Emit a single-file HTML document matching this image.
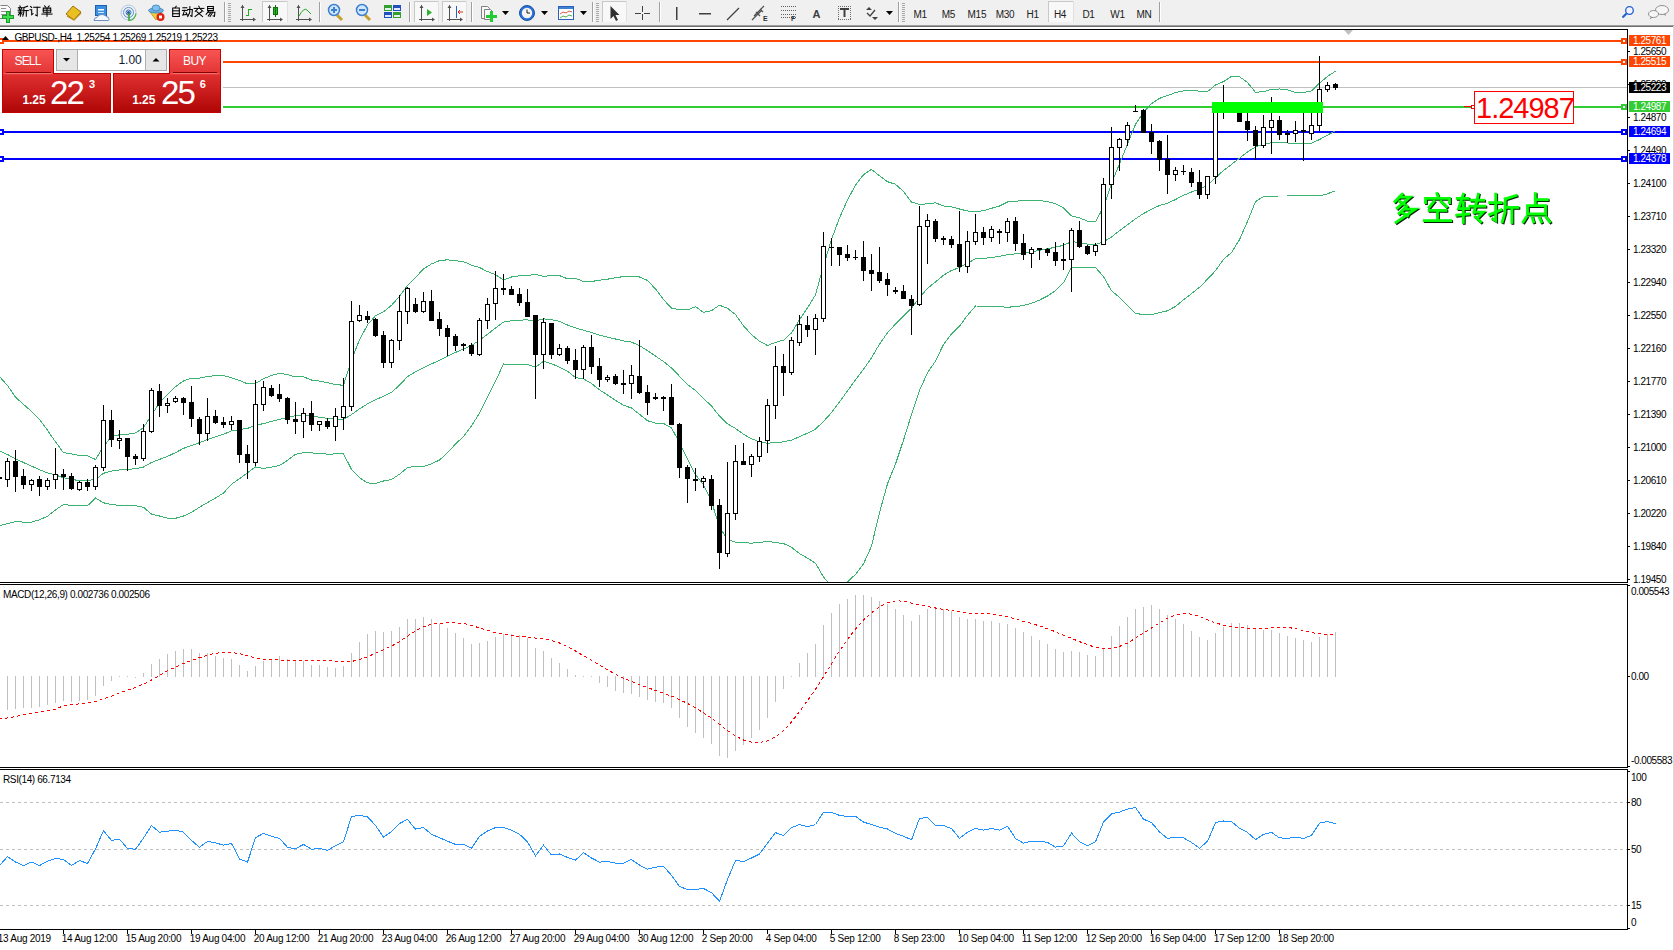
<!DOCTYPE html>
<html><head><meta charset="utf-8">
<style>
html,body{margin:0;padding:0;width:1674px;height:950px;overflow:hidden;background:#fff;font-family:"Liberation Sans",sans-serif;}
svg{position:absolute;left:0;top:0;}
text{font-family:"Liberation Sans",sans-serif;}
.ax{font-size:10px;letter-spacing:-0.45px;fill:#000;}
</style></head><body>
<svg width="1674" height="950">
<defs><clipPath id="cm"><rect x="0" y="30" width="1627" height="552"/></clipPath></defs>
<rect x="0" y="0" width="1674" height="25" fill="#f0f0f0"/><path d="M0.5,5.5 h7 l3,3 v10 h-10.5" fill="#fafafa" stroke="#808080" stroke-width="1"/><rect x="1" y="8" width="5" height="1" fill="#909090"/><rect x="1" y="11" width="7" height="1" fill="#909090"/><rect x="1" y="14" width="7" height="1" fill="#909090"/><g shape-rendering="crispEdges"><rect x="2" y="15" width="12" height="4" fill="#1a9a2a"/><rect x="6" y="11" width="4" height="12" fill="#1a9a2a"/><rect x="3" y="16" width="10" height="2" fill="#3ee04e"/><rect x="7" y="12" width="2" height="10" fill="#3ee04e"/></g><g fill="none" stroke="#000" stroke-width="1.05" stroke-linecap="square" stroke-linejoin="miter" ><polyline points="19.92,5.94 20.47,7.04"/><polyline points="18.38,7.70 22.34,7.70"/><polyline points="19.26,8.47 19.70,9.57"/><polyline points="21.57,8.47 20.91,9.57"/><polyline points="18.16,10.23 22.56,10.23"/><polyline points="18.38,12.10 22.34,12.10"/><polyline points="20.36,10.23 20.36,16.28"/><polyline points="20.14,12.54 18.38,14.96"/><polyline points="20.58,12.76 22.12,14.30"/><polyline points="27.62,6.16 23.88,7.48"/><polyline points="23.88,7.48 23.77,12.76 22.78,16.06"/><polyline points="23.88,10.56 28.28,10.56"/><polyline points="26.30,10.56 26.30,16.28"/></g><g fill="none" stroke="#000" stroke-width="1.05" stroke-linecap="square" stroke-linejoin="miter" ><polyline points="30.60,6.38 31.70,7.48"/><polyline points="29.94,9.68 31.70,9.68 31.70,14.74 33.02,13.64"/><polyline points="33.68,7.26 40.06,7.26"/><polyline points="37.20,7.26 37.20,15.84 35.66,14.96"/></g><g fill="none" stroke="#000" stroke-width="1.05" stroke-linecap="square" stroke-linejoin="miter" ><polyline points="44.58,5.94 45.46,7.04"/><polyline points="49.20,5.94 48.32,7.04"/><polyline points="43.26,8.14 50.74,8.14 50.74,12.32 43.26,12.32 43.26,8.14"/><polyline points="43.26,10.23 50.74,10.23"/><polyline points="47.00,8.14 47.00,16.28"/><polyline points="41.94,14.08 52.06,14.08"/></g><path d="M66,14 l7,-8 l8,6 l-7,8 z" fill="#e8c020" stroke="#a07010" stroke-width="1"/><path d="M67,16 l7,4 l7,-7" fill="none" stroke="#c08818" stroke-width="1.2"/><rect x="95.5" y="5.5" width="11" height="10" fill="#3a8fe0" stroke="#1d5fb0"/><rect x="98" y="9" width="6" height="1.5" fill="#fff"/><rect x="98" y="12" width="6" height="1" fill="#cfe8ff"/><path d="M94,20.5 q0,-3 3,-3 q1,-3 5,-3 q3,0 4,2 q3,0 3,3 q0,1 -1,1 z" fill="#f4f8ff" stroke="#7090c0" stroke-width="1"/><g fill="none" stroke-width="1"><circle cx="128.5" cy="12.5" r="7.5" stroke="#b0c8e8"/><circle cx="128.5" cy="12.5" r="5" stroke="#6090d0"/><circle cx="128.5" cy="12.5" r="2.5" stroke="#3070c0"/></g><circle cx="128.5" cy="12.5" r="1.5" fill="#2050b0"/><path d="M129,13 v8" stroke="#30a030" stroke-width="1.5"/><path d="M129,20.5 a7.5,7.5 0 0 0 7,-7" fill="none" stroke="#40b040" stroke-width="1.2"/><path d="M150,12 l6,8 l6,-8 z" fill="#f0d040" stroke="#b09020" stroke-width="0.8"/><ellipse cx="156" cy="10.5" rx="7.5" ry="2.5" fill="#70b0e0" stroke="#3a80c0" stroke-width="0.8"/><ellipse cx="156" cy="8" rx="4" ry="3" fill="#80c0f0" stroke="#3a80c0" stroke-width="0.8"/><circle cx="160.5" cy="17" r="4" fill="#e02010"/><rect x="159" y="15.5" width="3" height="3" fill="#fff"/><g fill="none" stroke="#000" stroke-width="1.05" stroke-linecap="square" stroke-linejoin="miter" ><polyline points="176.22,6.22 175.12,7.76"/><polyline points="172.70,7.98 179.30,7.98 179.30,16.56 172.70,16.56 172.70,7.98"/><polyline points="172.70,10.84 179.30,10.84"/><polyline points="172.70,13.70 179.30,13.70"/></g><g fill="none" stroke="#000" stroke-width="1.05" stroke-linecap="square" stroke-linejoin="miter" ><polyline points="182.88,7.76 186.84,7.76"/><polyline points="182.44,10.40 187.28,10.40"/><polyline points="184.64,10.40 182.88,15.02 186.84,14.36"/><polyline points="185.96,12.60 187.28,15.24"/><polyline points="187.72,9.52 192.34,9.52 191.90,16.34 190.58,15.68"/><polyline points="189.92,6.66 189.70,12.60 187.72,16.56"/></g><g fill="none" stroke="#000" stroke-width="1.05" stroke-linecap="square" stroke-linejoin="miter" ><polyline points="198.78,6.22 199.44,7.32"/><polyline points="194.16,8.42 203.84,8.42"/><polyline points="197.24,9.52 195.26,11.28"/><polyline points="200.76,9.52 202.96,11.28"/><polyline points="196.80,11.72 202.52,16.56"/><polyline points="201.42,11.72 195.04,16.56"/></g><g fill="none" stroke="#000" stroke-width="1.05" stroke-linecap="square" stroke-linejoin="miter" ><polyline points="207.64,6.44 213.36,6.44 213.36,10.62 207.64,10.62 207.64,6.44"/><polyline points="207.64,8.53 213.36,8.53"/><polyline points="208.74,11.06 206.10,14.36"/><polyline points="208.30,12.16 214.90,12.16 214.46,16.34 213.14,15.90"/><polyline points="210.50,12.82 208.30,15.90"/><polyline points="212.48,12.82 210.06,16.56"/></g><rect x="224" y="2" width="1" height="20" fill="#a0a0a0"/><rect x="225" y="2" width="1" height="20" fill="#ffffff"/><rect x="228" y="3" width="3" height="1" fill="#a8a8a8"/><rect x="228" y="5" width="3" height="1" fill="#a8a8a8"/><rect x="228" y="7" width="3" height="1" fill="#a8a8a8"/><rect x="228" y="9" width="3" height="1" fill="#a8a8a8"/><rect x="228" y="11" width="3" height="1" fill="#a8a8a8"/><rect x="228" y="13" width="3" height="1" fill="#a8a8a8"/><rect x="228" y="15" width="3" height="1" fill="#a8a8a8"/><rect x="228" y="17" width="3" height="1" fill="#a8a8a8"/><rect x="228" y="19" width="3" height="1" fill="#a8a8a8"/><rect x="228" y="21" width="3" height="1" fill="#a8a8a8"/><g stroke="#505050" stroke-width="1" fill="none" shape-rendering="crispEdges"><path d="M242.5,5 v15.5 M240,19.5 h14"/></g><path d="M240.5,8 l2,-3 l2,3 z M253,17.5 l3,2 l-3,2 z" fill="#505050"/><g stroke="#22aa22" stroke-width="1" fill="none" shape-rendering="crispEdges"><path d="M248.5,9 v7 M248.5,9.5 h3 M245.5,15.5 h3"/></g><rect x="262" y="1" width="26" height="21" fill="#f8f8f8"/><rect x="262" y="1" width="26" height="1" fill="#c8c8c8"/><rect x="262" y="1" width="1" height="21" fill="#c8c8c8"/><rect x="287" y="1" width="1" height="21" fill="#e0e0e0"/><g stroke="#505050" stroke-width="1" fill="none" shape-rendering="crispEdges"><path d="M269.5,5 v15.5 M267,19.5 h14"/></g><path d="M267.5,8 l2,-3 l2,3 z M280,17.5 l3,2 l-3,2 z" fill="#505050"/><rect x="273.5" y="7.5" width="4" height="7" fill="#22bb22" stroke="#107010"/><path d="M275.5,5 v12" stroke="#107010"/><g stroke="#505050" stroke-width="1" fill="none" shape-rendering="crispEdges"><path d="M298.5,5 v15.5 M296,19.5 h14"/></g><path d="M296.5,8 l2,-3 l2,3 z M309,17.5 l3,2 l-3,2 z" fill="#505050"/><path d="M299,16 q5,-9 8,-6 l4,4" fill="none" stroke="#22aa22" stroke-width="1"/><rect x="319" y="2" width="1" height="20" fill="#a0a0a0"/><rect x="320" y="2" width="1" height="20" fill="#ffffff"/><path d="M337,15 l5,5" stroke="#c8a030" stroke-width="3"/><circle cx="334" cy="10" r="5.5" fill="#cfe8ff" stroke="#3c7fd0" stroke-width="1.5"/><rect x="331" y="9" width="6" height="2" fill="#3c7fd0"/><rect x="333" y="7" width="2" height="6" fill="#3c7fd0"/><path d="M365,15 l5,5" stroke="#c8a030" stroke-width="3"/><circle cx="362" cy="10" r="5.5" fill="#cfe8ff" stroke="#3c7fd0" stroke-width="1.5"/><rect x="359" y="9" width="6" height="2" fill="#3c7fd0"/><g shape-rendering="crispEdges"><rect x="384" y="5" width="8" height="6" fill="#30a030"/><rect x="393" y="5" width="8" height="6" fill="#2050c0"/><rect x="384" y="12" width="8" height="6" fill="#2050c0"/><rect x="393" y="12" width="8" height="6" fill="#30a030"/><rect x="385" y="8" width="6" height="2" fill="#e8f0e8"/><rect x="394" y="8" width="6" height="2" fill="#e0e8ff"/><rect x="385" y="15" width="6" height="2" fill="#e0e8ff"/><rect x="394" y="15" width="6" height="2" fill="#e8f0e8"/></g><rect x="409" y="2" width="1" height="20" fill="#a0a0a0"/><rect x="410" y="2" width="1" height="20" fill="#ffffff"/><rect x="414" y="1" width="25" height="21" fill="#f8f8f8"/><rect x="414" y="1" width="25" height="1" fill="#c8c8c8"/><rect x="414" y="1" width="1" height="21" fill="#c8c8c8"/><rect x="438" y="1" width="1" height="21" fill="#e0e0e0"/><g stroke="#505050" stroke-width="1" fill="none" shape-rendering="crispEdges"><path d="M421.5,5 v15.5 M419,19.5 h14"/></g><path d="M419.5,8 l2,-3 l2,3 z M432,17.5 l3,2 l-3,2 z" fill="#505050"/><path d="M427,9 l5,3.5 l-5,3.5 z" fill="#30b030"/><rect x="442" y="1" width="25" height="21" fill="#f8f8f8"/><rect x="442" y="1" width="25" height="1" fill="#c8c8c8"/><rect x="442" y="1" width="1" height="21" fill="#c8c8c8"/><rect x="466" y="1" width="1" height="21" fill="#e0e0e0"/><g stroke="#505050" stroke-width="1" fill="none" shape-rendering="crispEdges"><path d="M449.5,5 v15.5 M447,19.5 h14"/></g><path d="M447.5,8 l2,-3 l2,3 z M460,17.5 l3,2 l-3,2 z" fill="#505050"/><path d="M456.5,6 v12" stroke="#2060d0" stroke-width="1"/><path d="M463,12 h-5 M460,10 l-2,2 l2,2" fill="none" stroke="#d03010" stroke-width="1"/><rect x="471" y="2" width="1" height="20" fill="#a0a0a0"/><rect x="472" y="2" width="1" height="20" fill="#ffffff"/><path d="M481.5,6.5 h6 l2,2 v10 h-8 z" fill="#fafafa" stroke="#808080"/><path d="M484.5,9.5 h6 l2,2 v8 h-8 z" fill="#fafafa" stroke="#808080"/><g shape-rendering="crispEdges"><rect x="486" y="15" width="11" height="3" fill="#22cc33"/><rect x="490" y="11" width="3" height="11" fill="#22cc33"/></g><path d="M502,11 h7 l-3.5,4 z" fill="#000"/><circle cx="527" cy="13" r="7.5" fill="#2a70d8" stroke="#1a50a0"/><circle cx="527" cy="13" r="5.2" fill="#f4f4f4"/><path d="M527,9.5 v3.5 h3" fill="none" stroke="#202020" stroke-width="1"/><path d="M541,11 h7 l-3.5,4 z" fill="#000"/><rect x="558.5" y="6.5" width="15" height="13" fill="#fff" stroke="#2a60c0"/><rect x="559" y="7" width="14" height="2" fill="#4080d0"/><path d="M560,14 l3,-2 l3,1 l3,-2 l3,1" fill="none" stroke="#d03020" stroke-width="0.8"/><path d="M560,18 l3,-2 l3,1 l3,-2 l3,1" fill="none" stroke="#20a020" stroke-width="0.8"/><path d="M580,11 h7 l-3.5,4 z" fill="#000"/><rect x="592" y="2" width="1" height="20" fill="#a0a0a0"/><rect x="593" y="2" width="1" height="20" fill="#ffffff"/><rect x="596" y="3" width="3" height="1" fill="#a8a8a8"/><rect x="596" y="5" width="3" height="1" fill="#a8a8a8"/><rect x="596" y="7" width="3" height="1" fill="#a8a8a8"/><rect x="596" y="9" width="3" height="1" fill="#a8a8a8"/><rect x="596" y="11" width="3" height="1" fill="#a8a8a8"/><rect x="596" y="13" width="3" height="1" fill="#a8a8a8"/><rect x="596" y="15" width="3" height="1" fill="#a8a8a8"/><rect x="596" y="17" width="3" height="1" fill="#a8a8a8"/><rect x="596" y="19" width="3" height="1" fill="#a8a8a8"/><rect x="596" y="21" width="3" height="1" fill="#a8a8a8"/><rect x="602" y="1" width="25" height="21" fill="#f8f8f8"/><rect x="602" y="1" width="25" height="1" fill="#c8c8c8"/><rect x="602" y="1" width="1" height="21" fill="#c8c8c8"/><rect x="626" y="1" width="1" height="21" fill="#e0e0e0"/><path d="M610.5,6 v13 l3,-3 l2.5,5 l2,-1 l-2.5,-5 h4 z" fill="#303030"/><g fill="#404040" shape-rendering="crispEdges"><rect x="642" y="6" width="1" height="6"/><rect x="642" y="14" width="1" height="6"/><rect x="635" y="13" width="6" height="1"/><rect x="644" y="13" width="6" height="1"/></g><rect x="659" y="2" width="1" height="20" fill="#a0a0a0"/><rect x="660" y="2" width="1" height="20" fill="#ffffff"/><rect x="676" y="7" width="1.5" height="13" fill="#404040"/><rect x="699" y="13" width="12" height="1.5" fill="#404040"/><path d="M727,20 l12,-12" stroke="#404040" stroke-width="1.3"/><path d="M754,16 l10,-10 M752,20 l10,-10 M756,12 l4,4 M760,9 l3,3" stroke="#505050" stroke-width="1.2" fill="none"/><text x="763" y="21" fill="#303030" style="font-size:7px;font-weight:bold;">E</text><g fill="#606060" shape-rendering="crispEdges"><rect x="781" y="6" width="1" height="1"/><rect x="783" y="6" width="1" height="1"/><rect x="785" y="6" width="1" height="1"/><rect x="787" y="6" width="1" height="1"/><rect x="789" y="6" width="1" height="1"/><rect x="791" y="6" width="1" height="1"/><rect x="793" y="6" width="1" height="1"/><rect x="795" y="6" width="1" height="1"/><rect x="781" y="10" width="1" height="1"/><rect x="783" y="10" width="1" height="1"/><rect x="785" y="10" width="1" height="1"/><rect x="787" y="10" width="1" height="1"/><rect x="789" y="10" width="1" height="1"/><rect x="791" y="10" width="1" height="1"/><rect x="793" y="10" width="1" height="1"/><rect x="795" y="10" width="1" height="1"/><rect x="781" y="14" width="1" height="1"/><rect x="783" y="14" width="1" height="1"/><rect x="785" y="14" width="1" height="1"/><rect x="787" y="14" width="1" height="1"/><rect x="789" y="14" width="1" height="1"/><rect x="791" y="14" width="1" height="1"/><rect x="793" y="14" width="1" height="1"/><rect x="795" y="14" width="1" height="1"/><rect x="781" y="17" width="1" height="1"/><rect x="783" y="17" width="1" height="1"/><rect x="785" y="17" width="1" height="1"/><rect x="787" y="17" width="1" height="1"/><rect x="789" y="17" width="1" height="1"/><rect x="791" y="17" width="1" height="1"/><rect x="793" y="17" width="1" height="1"/><rect x="795" y="17" width="1" height="1"/></g><text x="791" y="21" fill="#303030" style="font-size:7px;font-weight:bold;">F</text><text x="812.5" y="18" fill="#404040" style="font-size:11px;font-weight:bold;">A</text><g fill="#707070" shape-rendering="crispEdges"><rect x="838" y="6" width="1" height="1"/><rect x="838" y="19" width="1" height="1"/><rect x="840" y="6" width="1" height="1"/><rect x="840" y="19" width="1" height="1"/><rect x="842" y="6" width="1" height="1"/><rect x="842" y="19" width="1" height="1"/><rect x="844" y="6" width="1" height="1"/><rect x="844" y="19" width="1" height="1"/><rect x="846" y="6" width="1" height="1"/><rect x="846" y="19" width="1" height="1"/><rect x="848" y="6" width="1" height="1"/><rect x="848" y="19" width="1" height="1"/><rect x="850" y="6" width="1" height="1"/><rect x="850" y="19" width="1" height="1"/><rect x="838" y="6" width="1" height="1"/><rect x="850" y="6" width="1" height="1"/><rect x="838" y="8" width="1" height="1"/><rect x="850" y="8" width="1" height="1"/><rect x="838" y="10" width="1" height="1"/><rect x="850" y="10" width="1" height="1"/><rect x="838" y="12" width="1" height="1"/><rect x="850" y="12" width="1" height="1"/><rect x="838" y="14" width="1" height="1"/><rect x="850" y="14" width="1" height="1"/><rect x="838" y="16" width="1" height="1"/><rect x="850" y="16" width="1" height="1"/><rect x="838" y="18" width="1" height="1"/><rect x="850" y="18" width="1" height="1"/></g><rect x="840" y="8" width="9" height="2" fill="#404040"/><rect x="843.5" y="8" width="2" height="9" fill="#404040"/><path d="M866,10 l3,-3 l3,3 z M872,17 l3,3 l3,-3 z" fill="#404040"/><path d="M867,13 l3,3 l5,-6" fill="none" stroke="#404040" stroke-width="1.3"/><path d="M886,11 h7 l-3.5,4 z" fill="#000"/><rect x="898" y="2" width="1" height="20" fill="#a0a0a0"/><rect x="899" y="2" width="1" height="20" fill="#ffffff"/><rect x="902" y="3" width="3" height="1" fill="#a8a8a8"/><rect x="902" y="5" width="3" height="1" fill="#a8a8a8"/><rect x="902" y="7" width="3" height="1" fill="#a8a8a8"/><rect x="902" y="9" width="3" height="1" fill="#a8a8a8"/><rect x="902" y="11" width="3" height="1" fill="#a8a8a8"/><rect x="902" y="13" width="3" height="1" fill="#a8a8a8"/><rect x="902" y="15" width="3" height="1" fill="#a8a8a8"/><rect x="902" y="17" width="3" height="1" fill="#a8a8a8"/><rect x="902" y="19" width="3" height="1" fill="#a8a8a8"/><rect x="902" y="21" width="3" height="1" fill="#a8a8a8"/><text x="913.5" y="17.5" fill="#202020" style="font-size:10px;letter-spacing:-0.3px;">M1</text><text x="941.8" y="17.5" fill="#202020" style="font-size:10px;letter-spacing:-0.3px;">M5</text><text x="967.6" y="17.5" fill="#202020" style="font-size:10px;letter-spacing:-0.3px;">M15</text><text x="995.8" y="17.5" fill="#202020" style="font-size:10px;letter-spacing:-0.3px;">M30</text><text x="1026.5" y="17.5" fill="#202020" style="font-size:10px;letter-spacing:-0.3px;">H1</text><text x="1082.4" y="17.5" fill="#202020" style="font-size:10px;letter-spacing:-0.3px;">D1</text><text x="1110.3" y="17.5" fill="#202020" style="font-size:10px;letter-spacing:-0.3px;">W1</text><text x="1136.6" y="17.5" fill="#202020" style="font-size:10px;letter-spacing:-0.3px;">MN</text><rect x="1048" y="1" width="26" height="21" fill="#f8f8f8"/><rect x="1048" y="1" width="26" height="1" fill="#c8c8c8"/><rect x="1048" y="1" width="1" height="21" fill="#c8c8c8"/><rect x="1073" y="1" width="1" height="21" fill="#e0e0e0"/><text x="1053.9" y="17.5" fill="#202020" style="font-size:10px;letter-spacing:-0.3px;">H4</text><rect x="1159" y="2" width="1" height="20" fill="#a0a0a0"/><rect x="1160" y="2" width="1" height="20" fill="#ffffff"/><circle cx="1629.5" cy="10.5" r="3.8" fill="#f4f4ff" stroke="#2060d0" stroke-width="1.3"/><path d="M1626.5,13.5 l-4,4" stroke="#2060d0" stroke-width="2.2"/><ellipse cx="1662" cy="10" rx="6.5" ry="4.5" fill="#f6f6f6" stroke="#909090"/><path d="M1664,14 l1.5,2.5 l0,-3" fill="#808080"/><ellipse cx="1653.5" cy="14" rx="5" ry="3.5" fill="#f6f6f6" stroke="#909090"/><path d="M1651,17 l-1.5,2.5 l3,-2" fill="#808080"/>
<g shape-rendering="crispEdges">
<rect x="0" y="25" width="1674" height="1" fill="#a0a0a0"/>
<rect x="0" y="26" width="1674" height="1" fill="#6d6d6d"/>
<rect x="1673" y="26" width="1" height="924" fill="#d8d8d8"/>
<rect x="0" y="29" width="1628" height="1" fill="#000"/>
<rect x="0" y="582" width="1628" height="1" fill="#000"/>
<rect x="0" y="584" width="1628" height="1" fill="#000"/>
<rect x="0" y="767" width="1628" height="1" fill="#000"/>
<rect x="0" y="769" width="1628" height="1" fill="#000"/>
<rect x="0" y="929" width="1628" height="1" fill="#000"/>
<rect x="1627" y="29" width="1" height="554" fill="#000"/><rect x="1627" y="584" width="1" height="184" fill="#000"/><rect x="1627" y="769" width="1" height="161" fill="#000"/>
<rect x="0" y="40" width="1627" height="2" fill="#ff4500"/><rect x="1621" y="38" width="6" height="6" fill="#ff4500"/><rect x="1623" y="40" width="2" height="2" fill="#fff"/><rect x="0" y="38" width="4" height="6" fill="#ff4500"/><rect x="0" y="40" width="2" height="2" fill="#fff"/><rect x="0" y="61" width="1627" height="2" fill="#ff4500"/><rect x="1621" y="59" width="6" height="6" fill="#ff4500"/><rect x="1623" y="61" width="2" height="2" fill="#fff"/><rect x="0" y="59" width="4" height="6" fill="#ff4500"/><rect x="0" y="61" width="2" height="2" fill="#fff"/><rect x="0" y="87" width="1627" height="1" fill="#c0c0c0"/><rect x="0" y="106" width="1627" height="2" fill="#32cd32"/><rect x="1621" y="104" width="6" height="6" fill="#32cd32"/><rect x="1623" y="106" width="2" height="2" fill="#fff"/><rect x="0" y="104" width="4" height="6" fill="#32cd32"/><rect x="0" y="106" width="2" height="2" fill="#fff"/><rect x="0" y="131" width="1627" height="2" fill="#0000ff"/><rect x="1621" y="129" width="6" height="6" fill="#0000ff"/><rect x="1623" y="131" width="2" height="2" fill="#fff"/><rect x="0" y="129" width="4" height="6" fill="#0000ff"/><rect x="0" y="131" width="2" height="2" fill="#fff"/><rect x="0" y="158" width="1627" height="2" fill="#0000ff"/><rect x="1621" y="156" width="6" height="6" fill="#0000ff"/><rect x="1623" y="158" width="2" height="2" fill="#fff"/><rect x="0" y="156" width="4" height="6" fill="#0000ff"/><rect x="0" y="158" width="2" height="2" fill="#fff"/>
</g>
<g fill="none" stroke="#3cb371" stroke-width="1" clip-path="url(#cm)" shape-rendering="crispEdges">
<polyline points="-0.5,376.5 7.5,385.5 15.5,397.2 23.5,404.3 31.5,411.5 39.5,419.5 47.5,430.3 55.5,441.9 63.5,452.7 71.5,453.9 79.5,455.4 87.5,455.7 95.5,459.5 103.5,446.5 111.5,436.5 119.5,434.8 127.5,434.2 135.5,433.0 143.5,427.6 151.5,415.1 159.5,402.7 167.5,394.8 175.5,386.8 183.5,380.9 191.5,378.3 199.5,378.2 207.5,376.5 215.5,375.7 223.5,375.6 231.5,377.7 239.5,380.4 247.5,383.9 255.5,383.5 263.5,378.7 271.5,375.5 279.5,373.2 287.5,374.6 295.5,377.0 303.5,376.8 311.5,380.0 319.5,381.1 327.5,382.6 335.5,384.7 343.5,385.2 351.5,359.9 359.5,339.8 367.5,324.9 375.5,315.7 383.5,311.9 391.5,305.3 399.5,296.3 407.5,285.5 415.5,277.6 423.5,268.8 431.5,263.9 439.5,260.6 447.5,259.8 455.5,260.7 463.5,261.6 471.5,265.2 479.5,267.5 487.5,271.6 495.5,274.6 503.5,280.1 511.5,277.0 519.5,275.7 527.5,275.5 535.5,274.4 543.5,276.5 551.5,275.4 559.5,275.6 567.5,278.8 575.5,278.3 583.5,281.5 591.5,281.5 599.5,280.2 607.5,279.2 615.5,277.7 623.5,276.6 631.5,276.1 639.5,277.0 647.5,280.4 655.5,289.0 663.5,299.5 671.5,308.2 679.5,309.7 687.5,309.9 695.5,306.7 703.5,312.3 711.5,310.6 719.5,305.2 727.5,308.3 735.5,314.6 743.5,325.8 751.5,334.5 759.5,341.2 767.5,345.5 775.5,342.3 783.5,340.2 791.5,332.9 799.5,319.8 807.5,307.9 815.5,294.9 823.5,265.8 831.5,239.5 839.5,217.8 847.5,200.0 855.5,185.1 863.5,174.7 871.5,169.4 879.5,175.8 887.5,181.7 895.5,184.3 903.5,191.5 911.5,202.0 919.5,204.6 927.5,203.8 935.5,202.8 943.5,206.0 951.5,206.9 959.5,209.0 967.5,211.0 975.5,211.7 983.5,210.7 991.5,208.3 999.5,206.0 1007.5,202.0 1015.5,201.1 1023.5,200.8 1031.5,200.5 1039.5,200.6 1047.5,201.5 1055.5,203.7 1063.5,208.0 1071.5,215.9 1079.5,217.8 1087.5,221.2 1095.5,221.7 1103.5,207.1 1111.5,183.2 1119.5,163.9 1127.5,144.1 1135.5,124.3 1143.5,112.4 1151.5,103.6 1159.5,98.4 1167.5,95.5 1175.5,92.6 1183.5,90.9 1191.5,90.4 1199.5,91.2 1207.5,91.7 1215.5,85.0 1223.5,81.6 1231.5,76.3 1239.5,76.7 1247.5,82.5 1255.5,92.3 1263.5,91.7 1271.5,89.4 1279.5,89.0 1287.5,89.9 1295.5,92.5 1303.5,92.4 1311.5,91.0 1319.5,83.2 1327.5,76.4 1335.5,71.2"/><polyline points="-0.5,451.0 7.5,454.5 15.5,458.9 23.5,462.5 31.5,466.1 39.5,469.7 47.5,472.9 55.5,475.0 63.5,477.7 71.5,479.5 79.5,480.5 87.5,480.5 95.5,479.5 103.5,473.3 111.5,471.1 119.5,470.0 127.5,469.3 135.5,468.8 143.5,467.0 151.5,462.5 159.5,459.4 167.5,456.4 175.5,452.6 183.5,448.4 191.5,445.4 199.5,442.7 207.5,439.5 215.5,436.9 223.5,434.3 231.5,430.9 239.5,429.6 247.5,428.4 255.5,425.2 263.5,423.6 271.5,421.4 279.5,419.4 287.5,417.5 295.5,415.6 303.5,414.8 311.5,416.4 319.5,417.2 327.5,418.4 335.5,419.3 343.5,419.5 351.5,414.6 359.5,408.8 367.5,403.9 375.5,399.6 383.5,396.4 391.5,392.4 399.5,385.2 407.5,376.6 415.5,371.9 423.5,367.6 431.5,363.9 439.5,360.4 447.5,356.2 455.5,352.4 463.5,349.0 471.5,345.4 479.5,340.4 487.5,334.3 495.5,327.9 503.5,322.1 511.5,320.7 519.5,320.1 527.5,319.9 535.5,320.9 543.5,318.9 551.5,319.6 559.5,321.4 567.5,325.0 575.5,327.9 583.5,330.2 591.5,332.5 599.5,335.1 607.5,337.1 615.5,339.0 623.5,340.9 631.5,342.1 639.5,345.6 647.5,350.6 655.5,356.1 663.5,361.5 671.5,368.0 679.5,376.2 687.5,384.4 695.5,390.6 703.5,398.4 711.5,406.0 719.5,416.2 727.5,423.9 735.5,428.4 743.5,434.3 751.5,438.8 759.5,441.9 767.5,443.3 775.5,442.4 783.5,441.9 791.5,440.1 799.5,436.7 807.5,433.1 815.5,429.1 823.5,421.4 831.5,412.6 839.5,401.9 847.5,390.9 855.5,379.8 863.5,369.4 871.5,357.8 879.5,344.1 887.5,332.7 895.5,324.1 903.5,315.9 911.5,308.3 919.5,297.6 927.5,288.3 935.5,281.9 943.5,275.2 951.5,270.4 959.5,267.6 967.5,263.1 975.5,258.9 983.5,258.4 991.5,257.5 999.5,256.4 1007.5,254.6 1015.5,253.9 1023.5,253.1 1031.5,251.9 1039.5,250.3 1047.5,248.8 1055.5,247.2 1063.5,245.3 1071.5,241.6 1079.5,242.6 1087.5,244.2 1095.5,244.6 1103.5,241.8 1111.5,237.0 1119.5,230.7 1127.5,224.8 1135.5,218.8 1143.5,213.6 1151.5,209.2 1159.5,205.5 1167.5,203.2 1175.5,199.5 1183.5,195.3 1191.5,192.0 1199.5,189.2 1207.5,185.4 1215.5,177.8 1223.5,170.4 1231.5,164.4 1239.5,158.2 1247.5,151.9 1255.5,146.9 1263.5,144.1 1271.5,142.8 1279.5,142.5 1287.5,142.9 1295.5,143.9 1303.5,143.8 1311.5,143.1 1319.5,139.6 1327.5,135.1 1335.5,130.9"/><polyline points="-0.5,525.5 7.5,523.7 15.5,521.5 23.5,522.1 31.5,522.1 39.5,519.8 47.5,516.2 55.5,509.9 63.5,504.5 71.5,505.5 79.5,505.8 87.5,505.8 95.5,497.9 103.5,502.8 111.5,504.5 119.5,505.5 127.5,505.8 135.5,505.8 143.5,507.3 151.5,514.1 159.5,516.0 167.5,518.1 175.5,518.3 183.5,516.0 191.5,512.4 199.5,507.2 207.5,502.5 215.5,498.1 223.5,493.0 231.5,484.2 239.5,478.7 247.5,472.8 255.5,466.9 263.5,468.4 271.5,467.2 279.5,465.5 287.5,460.4 295.5,454.3 303.5,452.7 311.5,452.9 319.5,453.4 327.5,454.2 335.5,453.9 343.5,453.8 351.5,469.4 359.5,477.7 367.5,482.9 375.5,483.4 383.5,481.0 391.5,479.5 399.5,474.2 407.5,467.6 415.5,466.2 423.5,466.4 431.5,463.8 439.5,460.1 447.5,452.6 455.5,444.1 463.5,436.4 471.5,425.7 479.5,413.3 487.5,397.0 495.5,381.2 503.5,364.0 511.5,364.4 519.5,364.4 527.5,364.3 535.5,367.3 543.5,361.2 551.5,363.7 559.5,367.2 567.5,371.2 575.5,377.5 583.5,378.9 591.5,383.5 599.5,389.9 607.5,395.0 615.5,400.3 623.5,405.3 631.5,408.0 639.5,414.3 647.5,420.7 655.5,423.1 663.5,423.5 671.5,427.8 679.5,442.8 687.5,458.8 695.5,474.6 703.5,484.6 711.5,501.4 719.5,527.2 727.5,539.4 735.5,542.3 743.5,542.8 751.5,543.1 759.5,542.6 767.5,541.1 775.5,542.6 783.5,543.5 791.5,547.3 799.5,553.6 807.5,558.2 815.5,563.2 823.5,577.1 831.5,585.7 839.5,586.1 847.5,581.8 855.5,574.4 863.5,564.0 871.5,546.1 879.5,512.5 887.5,483.7 895.5,464.0 903.5,440.2 911.5,414.6 919.5,390.5 927.5,372.8 935.5,361.0 943.5,344.5 951.5,334.0 959.5,326.1 967.5,315.3 975.5,306.0 983.5,306.1 991.5,306.7 999.5,306.8 1007.5,307.2 1015.5,306.7 1023.5,305.4 1031.5,303.3 1039.5,300.1 1047.5,296.0 1055.5,290.8 1063.5,282.7 1071.5,267.3 1079.5,267.4 1087.5,267.3 1095.5,267.5 1103.5,276.6 1111.5,290.8 1119.5,297.4 1127.5,305.6 1135.5,313.3 1143.5,314.7 1151.5,314.7 1159.5,312.6 1167.5,310.8 1175.5,306.4 1183.5,299.8 1191.5,293.6 1199.5,287.3 1207.5,279.2 1215.5,270.7 1223.5,259.3 1231.5,252.5 1239.5,239.6 1247.5,221.4 1255.5,201.6 1263.5,196.5 1271.5,196.1 1279.5,196.0 1287.5,196.0 1295.5,195.3 1303.5,195.3 1311.5,195.1 1319.5,195.9 1327.5,193.8 1335.5,190.7"/>
</g>
<g fill="#000" shape-rendering="crispEdges"><rect x="-1" y="476" width="1" height="5"/><rect x="-3" y="477" width="5" height="2"/><rect x="7" y="458" width="1" height="29"/><rect x="5" y="461" width="5" height="19"/><rect x="6" y="462" width="3" height="17" fill="#fff"/><rect x="15" y="450" width="1" height="42"/><rect x="13" y="461" width="5" height="16"/><rect x="23" y="469" width="1" height="20"/><rect x="21" y="476" width="5" height="9"/><rect x="31" y="479" width="1" height="12"/><rect x="29" y="480" width="5" height="5"/><rect x="30" y="481" width="3" height="3" fill="#fff"/><rect x="39" y="476" width="1" height="20"/><rect x="37" y="479" width="5" height="8"/><rect x="47" y="478" width="1" height="12"/><rect x="45" y="480" width="5" height="7"/><rect x="46" y="481" width="3" height="5" fill="#fff"/><rect x="55" y="448" width="1" height="41"/><rect x="53" y="474" width="5" height="6"/><rect x="54" y="475" width="3" height="4" fill="#fff"/><rect x="63" y="469" width="1" height="21"/><rect x="61" y="474" width="5" height="3"/><rect x="71" y="473" width="1" height="17"/><rect x="69" y="476" width="5" height="13"/><rect x="79" y="481" width="1" height="10"/><rect x="77" y="482" width="5" height="8"/><rect x="78" y="483" width="3" height="6" fill="#fff"/><rect x="87" y="479" width="1" height="12"/><rect x="85" y="482" width="5" height="5"/><rect x="95" y="465" width="1" height="25"/><rect x="93" y="467" width="5" height="20"/><rect x="94" y="468" width="3" height="18" fill="#fff"/><rect x="103" y="405" width="1" height="66"/><rect x="101" y="420" width="5" height="48"/><rect x="102" y="421" width="3" height="46" fill="#fff"/><rect x="111" y="410" width="1" height="37"/><rect x="109" y="420" width="5" height="20"/><rect x="119" y="430" width="1" height="19"/><rect x="117" y="438" width="5" height="3"/><rect x="118" y="439" width="3" height="1" fill="#fff"/><rect x="127" y="438" width="1" height="33"/><rect x="125" y="438" width="5" height="19"/><rect x="135" y="454" width="1" height="11"/><rect x="133" y="456" width="5" height="3"/><rect x="143" y="424" width="1" height="37"/><rect x="141" y="431" width="5" height="28"/><rect x="142" y="432" width="3" height="26" fill="#fff"/><rect x="151" y="388" width="1" height="45"/><rect x="149" y="390" width="5" height="42"/><rect x="150" y="391" width="3" height="40" fill="#fff"/><rect x="159" y="384" width="1" height="33"/><rect x="157" y="391" width="5" height="15"/><rect x="167" y="398" width="1" height="15"/><rect x="165" y="403" width="5" height="3"/><rect x="166" y="404" width="3" height="1" fill="#fff"/><rect x="175" y="396" width="1" height="7"/><rect x="173" y="398" width="5" height="4"/><rect x="174" y="399" width="3" height="2" fill="#fff"/><rect x="183" y="397" width="1" height="18"/><rect x="181" y="398" width="5" height="5"/><rect x="191" y="386" width="1" height="41"/><rect x="189" y="402" width="5" height="17"/><rect x="199" y="417" width="1" height="28"/><rect x="197" y="419" width="5" height="15"/><rect x="207" y="398" width="1" height="43"/><rect x="205" y="416" width="5" height="18"/><rect x="206" y="417" width="3" height="16" fill="#fff"/><rect x="215" y="410" width="1" height="14"/><rect x="213" y="416" width="5" height="7"/><rect x="223" y="417" width="1" height="11"/><rect x="221" y="422" width="5" height="3"/><rect x="231" y="416" width="1" height="14"/><rect x="229" y="421" width="5" height="4"/><rect x="230" y="422" width="3" height="2" fill="#fff"/><rect x="239" y="420" width="1" height="43"/><rect x="237" y="420" width="5" height="35"/><rect x="247" y="445" width="1" height="34"/><rect x="245" y="454" width="5" height="9"/><rect x="255" y="380" width="1" height="86"/><rect x="253" y="404" width="5" height="59"/><rect x="254" y="405" width="3" height="57" fill="#fff"/><rect x="263" y="381" width="1" height="30"/><rect x="261" y="387" width="5" height="18"/><rect x="262" y="388" width="3" height="16" fill="#fff"/><rect x="271" y="385" width="1" height="12"/><rect x="269" y="388" width="5" height="8"/><rect x="279" y="384" width="1" height="18"/><rect x="277" y="394" width="5" height="5"/><rect x="287" y="397" width="1" height="27"/><rect x="285" y="398" width="5" height="22"/><rect x="295" y="402" width="1" height="32"/><rect x="293" y="419" width="5" height="3"/><rect x="303" y="408" width="1" height="30"/><rect x="301" y="413" width="5" height="9"/><rect x="302" y="414" width="3" height="7" fill="#fff"/><rect x="311" y="401" width="1" height="30"/><rect x="309" y="413" width="5" height="12"/><rect x="319" y="421" width="1" height="10"/><rect x="317" y="421" width="5" height="4"/><rect x="318" y="422" width="3" height="2" fill="#fff"/><rect x="327" y="418" width="1" height="11"/><rect x="325" y="421" width="5" height="6"/><rect x="335" y="408" width="1" height="33"/><rect x="333" y="416" width="5" height="11"/><rect x="334" y="417" width="3" height="9" fill="#fff"/><rect x="343" y="378" width="1" height="52"/><rect x="341" y="406" width="5" height="12"/><rect x="342" y="407" width="3" height="10" fill="#fff"/><rect x="351" y="301" width="1" height="110"/><rect x="349" y="321" width="5" height="86"/><rect x="350" y="322" width="3" height="84" fill="#fff"/><rect x="359" y="305" width="1" height="17"/><rect x="357" y="315" width="5" height="6"/><rect x="358" y="316" width="3" height="4" fill="#fff"/><rect x="367" y="311" width="1" height="12"/><rect x="365" y="316" width="5" height="4"/><rect x="375" y="318" width="1" height="19"/><rect x="373" y="319" width="5" height="17"/><rect x="383" y="331" width="1" height="37"/><rect x="381" y="335" width="5" height="28"/><rect x="391" y="339" width="1" height="29"/><rect x="389" y="340" width="5" height="23"/><rect x="390" y="341" width="3" height="21" fill="#fff"/><rect x="399" y="295" width="1" height="55"/><rect x="397" y="311" width="5" height="30"/><rect x="398" y="312" width="3" height="28" fill="#fff"/><rect x="407" y="287" width="1" height="37"/><rect x="405" y="288" width="5" height="24"/><rect x="406" y="289" width="3" height="22" fill="#fff"/><rect x="415" y="298" width="1" height="15"/><rect x="413" y="304" width="5" height="8"/><rect x="423" y="292" width="1" height="21"/><rect x="421" y="301" width="5" height="11"/><rect x="422" y="302" width="3" height="9" fill="#fff"/><rect x="431" y="290" width="1" height="31"/><rect x="429" y="301" width="5" height="20"/><rect x="439" y="312" width="1" height="24"/><rect x="437" y="319" width="5" height="10"/><rect x="447" y="325" width="1" height="31"/><rect x="445" y="328" width="5" height="9"/><rect x="455" y="334" width="1" height="17"/><rect x="453" y="336" width="5" height="10"/><rect x="463" y="343" width="1" height="8"/><rect x="461" y="344" width="5" height="2"/><rect x="471" y="343" width="1" height="13"/><rect x="469" y="345" width="5" height="9"/><rect x="479" y="318" width="1" height="38"/><rect x="477" y="320" width="5" height="35"/><rect x="478" y="321" width="3" height="33" fill="#fff"/><rect x="487" y="298" width="1" height="31"/><rect x="485" y="304" width="5" height="17"/><rect x="486" y="305" width="3" height="15" fill="#fff"/><rect x="495" y="271" width="1" height="49"/><rect x="493" y="288" width="5" height="16"/><rect x="494" y="289" width="3" height="14" fill="#fff"/><rect x="503" y="274" width="1" height="21"/><rect x="501" y="288" width="5" height="2"/><rect x="511" y="286" width="1" height="9"/><rect x="509" y="289" width="5" height="6"/><rect x="519" y="288" width="1" height="18"/><rect x="517" y="294" width="5" height="9"/><rect x="527" y="289" width="1" height="28"/><rect x="525" y="302" width="5" height="15"/><rect x="535" y="315" width="1" height="84"/><rect x="533" y="315" width="5" height="40"/><rect x="543" y="318" width="1" height="51"/><rect x="541" y="322" width="5" height="33"/><rect x="542" y="323" width="3" height="31" fill="#fff"/><rect x="551" y="323" width="1" height="36"/><rect x="549" y="323" width="5" height="32"/><rect x="559" y="344" width="1" height="12"/><rect x="557" y="348" width="5" height="7"/><rect x="558" y="349" width="3" height="5" fill="#fff"/><rect x="567" y="346" width="1" height="18"/><rect x="565" y="348" width="5" height="13"/><rect x="575" y="349" width="1" height="30"/><rect x="573" y="360" width="5" height="10"/><rect x="583" y="345" width="1" height="34"/><rect x="581" y="347" width="5" height="23"/><rect x="582" y="348" width="3" height="21" fill="#fff"/><rect x="591" y="335" width="1" height="39"/><rect x="589" y="347" width="5" height="20"/><rect x="599" y="358" width="1" height="29"/><rect x="597" y="366" width="5" height="14"/><rect x="607" y="375" width="1" height="7"/><rect x="605" y="377" width="5" height="3"/><rect x="606" y="378" width="3" height="1" fill="#fff"/><rect x="615" y="374" width="1" height="11"/><rect x="613" y="376" width="5" height="8"/><rect x="623" y="370" width="1" height="24"/><rect x="621" y="383" width="5" height="2"/><rect x="631" y="365" width="1" height="34"/><rect x="629" y="375" width="5" height="9"/><rect x="630" y="376" width="3" height="7" fill="#fff"/><rect x="639" y="340" width="1" height="54"/><rect x="637" y="376" width="5" height="17"/><rect x="647" y="385" width="1" height="30"/><rect x="645" y="392" width="5" height="11"/><rect x="655" y="393" width="1" height="7"/><rect x="653" y="397" width="5" height="2"/><rect x="663" y="396" width="1" height="15"/><rect x="661" y="397" width="5" height="2"/><rect x="671" y="384" width="1" height="41"/><rect x="669" y="397" width="5" height="28"/><rect x="679" y="423" width="1" height="55"/><rect x="677" y="424" width="5" height="44"/><rect x="687" y="465" width="1" height="38"/><rect x="685" y="467" width="5" height="12"/><rect x="695" y="468" width="1" height="23"/><rect x="693" y="479" width="5" height="2"/><rect x="703" y="476" width="1" height="12"/><rect x="701" y="478" width="5" height="4"/><rect x="702" y="479" width="3" height="2" fill="#fff"/><rect x="711" y="475" width="1" height="35"/><rect x="709" y="479" width="5" height="27"/><rect x="719" y="499" width="1" height="70"/><rect x="717" y="505" width="5" height="48"/><rect x="727" y="462" width="1" height="95"/><rect x="725" y="513" width="5" height="41"/><rect x="726" y="514" width="3" height="39" fill="#fff"/><rect x="735" y="445" width="1" height="75"/><rect x="733" y="461" width="5" height="53"/><rect x="734" y="462" width="3" height="51" fill="#fff"/><rect x="743" y="443" width="1" height="22"/><rect x="741" y="461" width="5" height="4"/><rect x="751" y="454" width="1" height="23"/><rect x="749" y="456" width="5" height="9"/><rect x="750" y="457" width="3" height="7" fill="#fff"/><rect x="759" y="437" width="1" height="25"/><rect x="757" y="441" width="5" height="16"/><rect x="758" y="442" width="3" height="14" fill="#fff"/><rect x="767" y="399" width="1" height="54"/><rect x="765" y="405" width="5" height="36"/><rect x="766" y="406" width="3" height="34" fill="#fff"/><rect x="775" y="346" width="1" height="73"/><rect x="773" y="366" width="5" height="40"/><rect x="774" y="367" width="3" height="38" fill="#fff"/><rect x="783" y="354" width="1" height="42"/><rect x="781" y="366" width="5" height="7"/><rect x="791" y="337" width="1" height="38"/><rect x="789" y="340" width="5" height="33"/><rect x="790" y="341" width="3" height="31" fill="#fff"/><rect x="799" y="315" width="1" height="31"/><rect x="797" y="324" width="5" height="19"/><rect x="798" y="325" width="3" height="17" fill="#fff"/><rect x="807" y="316" width="1" height="21"/><rect x="805" y="325" width="5" height="5"/><rect x="815" y="314" width="1" height="41"/><rect x="813" y="318" width="5" height="12"/><rect x="814" y="319" width="3" height="10" fill="#fff"/><rect x="823" y="232" width="1" height="90"/><rect x="821" y="246" width="5" height="73"/><rect x="822" y="247" width="3" height="71" fill="#fff"/><rect x="831" y="238" width="1" height="28"/><rect x="829" y="247" width="5" height="1"/><rect x="839" y="247" width="1" height="19"/><rect x="837" y="247" width="5" height="8"/><rect x="847" y="245" width="1" height="16"/><rect x="845" y="254" width="5" height="4"/><rect x="855" y="250" width="1" height="10"/><rect x="853" y="257" width="5" height="1"/><rect x="863" y="241" width="1" height="40"/><rect x="861" y="257" width="5" height="14"/><rect x="871" y="254" width="1" height="37"/><rect x="869" y="270" width="5" height="4"/><rect x="879" y="247" width="1" height="36"/><rect x="877" y="272" width="5" height="9"/><rect x="887" y="273" width="1" height="23"/><rect x="885" y="279" width="5" height="6"/><rect x="895" y="287" width="1" height="7"/><rect x="893" y="290" width="5" height="2"/><rect x="903" y="285" width="1" height="14"/><rect x="901" y="291" width="5" height="8"/><rect x="911" y="295" width="1" height="40"/><rect x="909" y="299" width="5" height="7"/><rect x="919" y="206" width="1" height="100"/><rect x="917" y="226" width="5" height="79"/><rect x="918" y="227" width="3" height="77" fill="#fff"/><rect x="927" y="214" width="1" height="50"/><rect x="925" y="220" width="5" height="7"/><rect x="926" y="221" width="3" height="5" fill="#fff"/><rect x="935" y="219" width="1" height="23"/><rect x="933" y="221" width="5" height="18"/><rect x="943" y="236" width="1" height="9"/><rect x="941" y="238" width="5" height="2"/><rect x="951" y="236" width="1" height="12"/><rect x="949" y="239" width="5" height="6"/><rect x="959" y="211" width="1" height="61"/><rect x="957" y="244" width="5" height="23"/><rect x="967" y="231" width="1" height="42"/><rect x="965" y="241" width="5" height="26"/><rect x="966" y="242" width="3" height="24" fill="#fff"/><rect x="975" y="214" width="1" height="31"/><rect x="973" y="232" width="5" height="10"/><rect x="974" y="233" width="3" height="8" fill="#fff"/><rect x="983" y="227" width="1" height="18"/><rect x="981" y="232" width="5" height="6"/><rect x="991" y="226" width="1" height="16"/><rect x="989" y="229" width="5" height="9"/><rect x="990" y="230" width="3" height="7" fill="#fff"/><rect x="999" y="229" width="1" height="15"/><rect x="997" y="231" width="5" height="2"/><rect x="1007" y="218" width="1" height="24"/><rect x="1005" y="221" width="5" height="12"/><rect x="1006" y="222" width="3" height="10" fill="#fff"/><rect x="1015" y="217" width="1" height="34"/><rect x="1013" y="221" width="5" height="23"/><rect x="1023" y="234" width="1" height="26"/><rect x="1021" y="243" width="5" height="12"/><rect x="1031" y="247" width="1" height="21"/><rect x="1029" y="249" width="5" height="5"/><rect x="1030" y="250" width="3" height="3" fill="#fff"/><rect x="1039" y="248" width="1" height="12"/><rect x="1037" y="248" width="5" height="2"/><rect x="1047" y="248" width="1" height="8"/><rect x="1045" y="249" width="5" height="4"/><rect x="1055" y="242" width="1" height="24"/><rect x="1053" y="252" width="5" height="9"/><rect x="1063" y="243" width="1" height="27"/><rect x="1061" y="259" width="5" height="2"/><rect x="1071" y="228" width="1" height="64"/><rect x="1069" y="230" width="5" height="30"/><rect x="1070" y="231" width="3" height="28" fill="#fff"/><rect x="1079" y="221" width="1" height="27"/><rect x="1077" y="230" width="5" height="17"/><rect x="1087" y="245" width="1" height="10"/><rect x="1085" y="246" width="5" height="8"/><rect x="1095" y="243" width="1" height="13"/><rect x="1093" y="245" width="5" height="7"/><rect x="1094" y="246" width="3" height="5" fill="#fff"/><rect x="1103" y="178" width="1" height="67"/><rect x="1101" y="184" width="5" height="61"/><rect x="1102" y="185" width="3" height="59" fill="#fff"/><rect x="1111" y="127" width="1" height="72"/><rect x="1109" y="147" width="5" height="38"/><rect x="1110" y="148" width="3" height="36" fill="#fff"/><rect x="1119" y="138" width="1" height="33"/><rect x="1117" y="139" width="5" height="9"/><rect x="1118" y="140" width="3" height="7" fill="#fff"/><rect x="1127" y="122" width="1" height="24"/><rect x="1125" y="125" width="5" height="15"/><rect x="1126" y="126" width="3" height="13" fill="#fff"/><rect x="1135" y="105" width="1" height="7"/><rect x="1133" y="111" width="5" height="1"/><rect x="1143" y="109" width="1" height="24"/><rect x="1141" y="110" width="5" height="23"/><rect x="1151" y="124" width="1" height="30"/><rect x="1149" y="132" width="5" height="10"/><rect x="1159" y="140" width="1" height="31"/><rect x="1157" y="141" width="5" height="19"/><rect x="1167" y="135" width="1" height="59"/><rect x="1165" y="159" width="5" height="16"/><rect x="1175" y="167" width="1" height="14"/><rect x="1173" y="170" width="5" height="5"/><rect x="1174" y="171" width="3" height="3" fill="#fff"/><rect x="1183" y="165" width="1" height="10"/><rect x="1181" y="171" width="5" height="1"/><rect x="1191" y="168" width="1" height="19"/><rect x="1189" y="172" width="5" height="11"/><rect x="1199" y="170" width="1" height="29"/><rect x="1197" y="182" width="5" height="13"/><rect x="1207" y="176" width="1" height="23"/><rect x="1205" y="176" width="5" height="19"/><rect x="1206" y="177" width="3" height="17" fill="#fff"/><rect x="1215" y="108" width="1" height="76"/><rect x="1213" y="108" width="5" height="69"/><rect x="1214" y="109" width="3" height="67" fill="#fff"/><rect x="1223" y="85" width="1" height="34"/><rect x="1221" y="108" width="5" height="5"/><rect x="1231" y="104" width="1" height="7"/><rect x="1229" y="105" width="5" height="5"/><rect x="1239" y="106" width="1" height="16"/><rect x="1237" y="108" width="5" height="14"/><rect x="1247" y="113" width="1" height="28"/><rect x="1245" y="121" width="5" height="9"/><rect x="1255" y="126" width="1" height="34"/><rect x="1253" y="130" width="5" height="16"/><rect x="1263" y="115" width="1" height="33"/><rect x="1261" y="127" width="5" height="19"/><rect x="1262" y="128" width="3" height="17" fill="#fff"/><rect x="1271" y="97" width="1" height="57"/><rect x="1269" y="120" width="5" height="8"/><rect x="1270" y="121" width="3" height="6" fill="#fff"/><rect x="1279" y="116" width="1" height="24"/><rect x="1277" y="120" width="5" height="15"/><rect x="1287" y="130" width="1" height="13"/><rect x="1285" y="133" width="5" height="2"/><rect x="1295" y="121" width="1" height="21"/><rect x="1293" y="130" width="5" height="4"/><rect x="1294" y="131" width="3" height="2" fill="#fff"/><rect x="1303" y="113" width="1" height="48"/><rect x="1301" y="130" width="5" height="2"/><rect x="1311" y="113" width="1" height="27"/><rect x="1309" y="125" width="5" height="9"/><rect x="1310" y="126" width="3" height="7" fill="#fff"/><rect x="1319" y="56" width="1" height="75"/><rect x="1317" y="89" width="5" height="37"/><rect x="1318" y="90" width="3" height="35" fill="#fff"/><rect x="1327" y="82" width="1" height="10"/><rect x="1325" y="85" width="5" height="5"/><rect x="1326" y="86" width="3" height="3" fill="#fff"/><rect x="1335" y="83" width="1" height="7"/><rect x="1333" y="84" width="5" height="4"/></g>
<g fill="#c0c0c0" shape-rendering="crispEdges"><rect x="-1" y="676" width="1" height="34"/><rect x="7" y="676" width="1" height="34"/><rect x="15" y="676" width="1" height="33"/><rect x="23" y="676" width="1" height="32"/><rect x="31" y="676" width="1" height="32"/><rect x="39" y="676" width="1" height="31"/><rect x="47" y="676" width="1" height="29"/><rect x="55" y="676" width="1" height="27"/><rect x="63" y="676" width="1" height="25"/><rect x="71" y="676" width="1" height="26"/><rect x="79" y="676" width="1" height="25"/><rect x="87" y="676" width="1" height="24"/><rect x="95" y="676" width="1" height="20"/><rect x="103" y="676" width="1" height="10"/><rect x="111" y="676" width="1" height="5"/><rect x="119" y="676" width="1" height="1"/><rect x="127" y="676" width="1" height="1"/><rect x="135" y="677" width="1" height="1"/><rect x="143" y="673" width="1" height="4"/><rect x="151" y="664" width="1" height="13"/><rect x="159" y="659" width="1" height="18"/><rect x="167" y="654" width="1" height="23"/><rect x="175" y="651" width="1" height="26"/><rect x="183" y="649" width="1" height="28"/><rect x="191" y="649" width="1" height="28"/><rect x="199" y="653" width="1" height="24"/><rect x="207" y="653" width="1" height="24"/><rect x="215" y="656" width="1" height="21"/><rect x="223" y="658" width="1" height="19"/><rect x="231" y="659" width="1" height="18"/><rect x="239" y="665" width="1" height="12"/><rect x="247" y="671" width="1" height="6"/><rect x="255" y="666" width="1" height="11"/><rect x="263" y="661" width="1" height="16"/><rect x="271" y="659" width="1" height="18"/><rect x="279" y="656" width="1" height="21"/><rect x="287" y="659" width="1" height="18"/><rect x="295" y="660" width="1" height="17"/><rect x="303" y="661" width="1" height="16"/><rect x="311" y="665" width="1" height="12"/><rect x="319" y="665" width="1" height="12"/><rect x="327" y="667" width="1" height="10"/><rect x="335" y="668" width="1" height="9"/><rect x="343" y="666" width="1" height="11"/><rect x="351" y="653" width="1" height="24"/><rect x="359" y="642" width="1" height="35"/><rect x="367" y="634" width="1" height="43"/><rect x="375" y="631" width="1" height="46"/><rect x="383" y="632" width="1" height="45"/><rect x="391" y="631" width="1" height="46"/><rect x="399" y="627" width="1" height="50"/><rect x="407" y="619" width="1" height="58"/><rect x="415" y="619" width="1" height="58"/><rect x="423" y="617" width="1" height="60"/><rect x="431" y="619" width="1" height="58"/><rect x="439" y="624" width="1" height="53"/><rect x="447" y="628" width="1" height="49"/><rect x="455" y="633" width="1" height="44"/><rect x="463" y="638" width="1" height="39"/><rect x="471" y="644" width="1" height="33"/><rect x="479" y="643" width="1" height="34"/><rect x="487" y="641" width="1" height="36"/><rect x="495" y="637" width="1" height="40"/><rect x="503" y="634" width="1" height="43"/><rect x="511" y="634" width="1" height="43"/><rect x="519" y="635" width="1" height="42"/><rect x="527" y="638" width="1" height="39"/><rect x="535" y="648" width="1" height="29"/><rect x="543" y="651" width="1" height="26"/><rect x="551" y="658" width="1" height="19"/><rect x="559" y="663" width="1" height="14"/><rect x="567" y="669" width="1" height="8"/><rect x="575" y="675" width="1" height="2"/><rect x="583" y="676" width="1" height="1"/><rect x="591" y="676" width="1" height="1"/><rect x="599" y="676" width="1" height="7"/><rect x="607" y="676" width="1" height="11"/><rect x="615" y="676" width="1" height="15"/><rect x="623" y="676" width="1" height="17"/><rect x="631" y="676" width="1" height="18"/><rect x="639" y="676" width="1" height="21"/><rect x="647" y="676" width="1" height="24"/><rect x="655" y="676" width="1" height="26"/><rect x="663" y="676" width="1" height="27"/><rect x="671" y="676" width="1" height="32"/><rect x="679" y="676" width="1" height="42"/><rect x="687" y="676" width="1" height="51"/><rect x="695" y="676" width="1" height="57"/><rect x="703" y="676" width="1" height="62"/><rect x="711" y="676" width="1" height="68"/><rect x="719" y="676" width="1" height="80"/><rect x="727" y="676" width="1" height="82"/><rect x="735" y="676" width="1" height="75"/><rect x="743" y="676" width="1" height="69"/><rect x="751" y="676" width="1" height="62"/><rect x="759" y="676" width="1" height="54"/><rect x="767" y="676" width="1" height="42"/><rect x="775" y="676" width="1" height="26"/><rect x="783" y="676" width="1" height="13"/><rect x="791" y="676" width="1" height="1"/><rect x="799" y="663" width="1" height="14"/><rect x="807" y="653" width="1" height="24"/><rect x="815" y="644" width="1" height="33"/><rect x="823" y="625" width="1" height="52"/><rect x="831" y="613" width="1" height="64"/><rect x="839" y="604" width="1" height="73"/><rect x="847" y="599" width="1" height="78"/><rect x="855" y="595" width="1" height="82"/><rect x="863" y="595" width="1" height="82"/><rect x="871" y="597" width="1" height="80"/><rect x="879" y="601" width="1" height="76"/><rect x="887" y="604" width="1" height="73"/><rect x="895" y="609" width="1" height="68"/><rect x="903" y="615" width="1" height="62"/><rect x="911" y="621" width="1" height="56"/><rect x="919" y="615" width="1" height="62"/><rect x="927" y="609" width="1" height="68"/><rect x="935" y="609" width="1" height="68"/><rect x="943" y="609" width="1" height="68"/><rect x="951" y="611" width="1" height="66"/><rect x="959" y="617" width="1" height="60"/><rect x="967" y="619" width="1" height="58"/><rect x="975" y="619" width="1" height="58"/><rect x="983" y="621" width="1" height="56"/><rect x="991" y="621" width="1" height="56"/><rect x="999" y="623" width="1" height="54"/><rect x="1007" y="624" width="1" height="53"/><rect x="1015" y="628" width="1" height="49"/><rect x="1023" y="632" width="1" height="45"/><rect x="1031" y="636" width="1" height="41"/><rect x="1039" y="640" width="1" height="37"/><rect x="1047" y="644" width="1" height="33"/><rect x="1055" y="649" width="1" height="28"/><rect x="1063" y="652" width="1" height="25"/><rect x="1071" y="651" width="1" height="26"/><rect x="1079" y="652" width="1" height="25"/><rect x="1087" y="655" width="1" height="22"/><rect x="1095" y="656" width="1" height="21"/><rect x="1103" y="649" width="1" height="28"/><rect x="1111" y="636" width="1" height="41"/><rect x="1119" y="626" width="1" height="51"/><rect x="1127" y="617" width="1" height="60"/><rect x="1135" y="609" width="1" height="68"/><rect x="1143" y="607" width="1" height="70"/><rect x="1151" y="605" width="1" height="72"/><rect x="1159" y="609" width="1" height="68"/><rect x="1167" y="615" width="1" height="62"/><rect x="1175" y="619" width="1" height="58"/><rect x="1183" y="624" width="1" height="53"/><rect x="1191" y="631" width="1" height="46"/><rect x="1199" y="637" width="1" height="40"/><rect x="1207" y="640" width="1" height="37"/><rect x="1215" y="633" width="1" height="44"/><rect x="1223" y="627" width="1" height="50"/><rect x="1231" y="623" width="1" height="54"/><rect x="1239" y="623" width="1" height="54"/><rect x="1247" y="625" width="1" height="52"/><rect x="1255" y="629" width="1" height="48"/><rect x="1263" y="630" width="1" height="47"/><rect x="1271" y="630" width="1" height="47"/><rect x="1279" y="633" width="1" height="44"/><rect x="1287" y="636" width="1" height="41"/><rect x="1295" y="638" width="1" height="39"/><rect x="1303" y="640" width="1" height="37"/><rect x="1311" y="642" width="1" height="35"/><rect x="1319" y="637" width="1" height="40"/><rect x="1327" y="634" width="1" height="43"/><rect x="1335" y="632" width="1" height="45"/></g>
<polyline points="-0.5,719.0 7.5,718.0 15.5,716.5 23.5,715.0 31.5,713.4 39.5,711.9 47.5,710.4 55.5,709.2 63.5,705.7 71.5,704.8 79.5,703.8 87.5,702.7 95.5,701.4 103.5,699.0 111.5,696.1 119.5,693.0 127.5,690.1 135.5,687.4 143.5,684.1 151.5,680.0 159.5,675.5 167.5,670.9 175.5,667.0 183.5,663.4 191.5,660.4 199.5,657.7 207.5,655.1 215.5,653.2 223.5,652.5 231.5,652.5 239.5,653.7 247.5,655.9 255.5,657.8 263.5,659.1 271.5,659.7 279.5,660.1 287.5,660.4 295.5,660.6 303.5,660.8 311.5,660.8 319.5,660.2 327.5,660.3 335.5,661.1 343.5,661.8 351.5,661.5 359.5,659.6 367.5,656.7 375.5,653.4 383.5,649.8 391.5,646.1 399.5,641.6 407.5,636.2 415.5,630.9 423.5,626.9 431.5,624.3 439.5,623.2 447.5,622.8 455.5,622.8 463.5,623.5 471.5,625.4 479.5,628.0 487.5,630.4 495.5,632.6 503.5,634.4 511.5,635.5 519.5,636.3 527.5,637.0 535.5,638.1 543.5,638.9 551.5,640.5 559.5,643.0 567.5,646.5 575.5,651.0 583.5,655.7 591.5,660.3 599.5,665.3 607.5,669.7 615.5,674.2 623.5,678.1 631.5,681.5 639.5,684.7 647.5,687.5 655.5,690.5 663.5,693.3 671.5,696.1 679.5,699.5 687.5,703.5 695.5,708.0 703.5,712.9 711.5,718.1 719.5,724.3 727.5,730.5 735.5,735.9 743.5,740.0 751.5,742.2 759.5,742.6 767.5,740.9 775.5,736.9 783.5,730.8 791.5,722.0 799.5,711.4 807.5,700.5 815.5,689.2 823.5,676.7 831.5,663.6 839.5,651.0 847.5,639.5 855.5,629.1 863.5,620.0 871.5,612.8 879.5,607.0 887.5,602.6 895.5,600.8 903.5,601.2 911.5,603.1 919.5,605.0 927.5,606.5 935.5,608.0 943.5,609.4 951.5,610.5 959.5,611.9 967.5,613.0 975.5,613.3 983.5,613.2 991.5,613.8 999.5,615.3 1007.5,616.9 1015.5,618.9 1023.5,621.4 1031.5,623.5 1039.5,625.9 1047.5,628.7 1055.5,631.8 1063.5,635.3 1071.5,638.4 1079.5,641.6 1087.5,644.7 1095.5,647.3 1103.5,648.8 1111.5,648.4 1119.5,646.4 1127.5,643.0 1135.5,638.1 1143.5,633.2 1151.5,628.0 1159.5,622.9 1167.5,618.3 1175.5,615.0 1183.5,613.7 1191.5,614.1 1199.5,616.4 1207.5,619.9 1215.5,622.8 1223.5,625.2 1231.5,626.7 1239.5,627.5 1247.5,628.2 1255.5,628.7 1263.5,628.6 1271.5,627.8 1279.5,627.1 1287.5,627.4 1295.5,628.6 1303.5,630.5 1311.5,632.6 1319.5,633.9 1327.5,634.5 1335.5,634.7" fill="none" stroke="#ff0000" stroke-width="1" stroke-dasharray="3 3" shape-rendering="crispEdges"/>
<g stroke="#c0c0c0" stroke-width="1" stroke-dasharray="3 3" shape-rendering="crispEdges">
<line x1="0" y1="802.5" x2="1627" y2="802.5"/><line x1="0" y1="849.5" x2="1627" y2="849.5"/><line x1="0" y1="905.5" x2="1627" y2="905.5"/>
</g>
<polyline points="-0.5,865.5 7.5,856.6 15.5,862.1 23.5,865.5 31.5,862.1 39.5,865.5 47.5,861.1 55.5,858.4 63.5,859.5 71.5,865.5 79.5,860.5 87.5,863.5 95.5,848.9 103.5,830.6 111.5,840.4 119.5,839.1 127.5,848.5 135.5,849.3 143.5,838.1 151.5,825.5 159.5,832.2 167.5,831.2 175.5,830.2 183.5,832.2 191.5,840.4 199.5,847.3 207.5,841.4 215.5,842.8 223.5,845.2 231.5,843.4 239.5,859.0 247.5,862.1 255.5,837.7 263.5,833.3 271.5,836.3 279.5,838.3 287.5,847.3 295.5,848.9 303.5,844.4 311.5,849.3 319.5,848.5 327.5,850.3 335.5,845.8 343.5,841.8 351.5,816.4 359.5,815.4 367.5,816.8 375.5,825.5 383.5,837.1 391.5,831.6 399.5,823.5 407.5,819.4 415.5,829.2 423.5,827.6 431.5,834.3 439.5,837.7 447.5,841.2 455.5,844.4 463.5,844.4 471.5,848.3 479.5,836.3 487.5,831.0 495.5,827.6 503.5,827.6 511.5,830.2 519.5,834.3 527.5,841.8 535.5,856.0 543.5,845.2 551.5,855.0 559.5,854.0 567.5,857.4 575.5,860.1 583.5,852.6 591.5,858.0 599.5,862.1 607.5,861.5 615.5,863.1 623.5,863.1 631.5,859.5 639.5,865.1 647.5,869.2 655.5,867.2 663.5,866.2 671.5,875.3 679.5,886.5 687.5,889.5 695.5,889.5 703.5,888.5 711.5,892.6 719.5,901.3 727.5,879.4 735.5,860.5 743.5,861.5 751.5,858.0 759.5,854.0 767.5,843.2 775.5,832.6 783.5,835.7 791.5,827.6 799.5,824.5 807.5,826.6 815.5,824.5 823.5,812.3 831.5,812.3 839.5,815.4 847.5,816.4 855.5,816.4 863.5,822.1 871.5,824.5 879.5,827.2 887.5,829.0 895.5,833.3 903.5,836.3 911.5,839.8 919.5,818.4 927.5,817.4 935.5,825.5 943.5,825.5 951.5,828.6 959.5,838.3 967.5,832.3 975.5,828.4 983.5,830.1 991.5,828.4 999.5,830.1 1007.5,826.1 1015.5,838.5 1023.5,843.1 1031.5,841.3 1039.5,841.3 1047.5,842.4 1055.5,847.1 1063.5,845.9 1071.5,833.1 1079.5,841.7 1087.5,845.9 1095.5,841.7 1103.5,822.2 1111.5,813.8 1119.5,812.1 1127.5,809.1 1135.5,807.5 1143.5,819.1 1151.5,822.6 1159.5,831.9 1167.5,838.5 1175.5,837.1 1183.5,837.8 1191.5,842.4 1199.5,848.2 1207.5,841.3 1215.5,822.6 1223.5,821.0 1231.5,821.5 1239.5,828.4 1247.5,832.4 1255.5,839.6 1263.5,834.3 1271.5,832.4 1279.5,837.8 1287.5,838.5 1295.5,837.1 1303.5,838.5 1311.5,835.4 1319.5,823.1 1327.5,821.5 1335.5,823.8" fill="none" stroke="#1e90ff" stroke-width="1" shape-rendering="crispEdges"/>
<path d="M2,40 l3.5,-4 l3.5,4 z" fill="#000"/><text x="14.4" y="40.6" fill="#000" style="font-size:10px;letter-spacing:-0.38px;">GBPUSD-,H4&#160;&#160;1.25254 1.25269 1.25219 1.25223</text><text x="3" y="597.5" fill="#000" style="font-size:10px;letter-spacing:-0.38px;">MACD(12,26,9) 0.002736 0.002506</text><text x="3" y="782.5" fill="#000" style="font-size:10px;letter-spacing:-0.38px;">RSI(14) 66.7134</text><rect x="1628" y="585" width="2" height="1" fill="#000"/><text x="1631" y="595" fill="#000" style="font-size:10px;letter-spacing:-0.45px;">0.005543</text><rect x="1628" y="676" width="2" height="1" fill="#000"/><text x="1631" y="680" fill="#000" style="font-size:10px;letter-spacing:-0.45px;">0.00</text><rect x="1628" y="766" width="2" height="1" fill="#000"/><text x="1631" y="764" fill="#000" style="font-size:10px;letter-spacing:-0.45px;">-0.005583</text><rect x="1628" y="771" width="2" height="1" fill="#000"/><rect x="1628" y="802" width="2" height="1" fill="#000"/><rect x="1628" y="849" width="2" height="1" fill="#000"/><rect x="1628" y="905" width="2" height="1" fill="#000"/><rect x="1628" y="928" width="2" height="1" fill="#000"/><text x="1631" y="780.5" fill="#000" style="font-size:10px;letter-spacing:-0.45px;">100</text><text x="1631" y="806" fill="#000" style="font-size:10px;letter-spacing:-0.45px;">80</text><text x="1631" y="853" fill="#000" style="font-size:10px;letter-spacing:-0.45px;">50</text><text x="1631" y="909" fill="#000" style="font-size:10px;letter-spacing:-0.45px;">15</text><text x="1631" y="926" fill="#000" style="font-size:10px;letter-spacing:-0.45px;">0</text><path d="M1344,30 h9 l-4.5,5 z" fill="#c0c0c0"/><rect x="1212" y="102" width="111" height="11" fill="#00ff00" shape-rendering="crispEdges"/><g shape-rendering="crispEdges"><rect x="1464" y="106" width="8" height="1" fill="#ff0000"/><rect x="1474.5" y="91.5" width="99" height="32" fill="#fff" stroke="#ff0000" stroke-width="1"/><rect x="1471.5" y="105.5" width="3" height="3" fill="#fff" stroke="#ff0000"/></g><text x="1476" y="118.4" fill="#ff0000" style="font-size:29px;letter-spacing:-1.0px;">1.24987</text>
<rect x="0" y="45" width="223" height="70" fill="#fff"/>
<defs><linearGradient id="gtab" x1="0" y1="0" x2="0" y2="1"><stop offset="0" stop-color="#f85454"/><stop offset="1" stop-color="#e23434"/></linearGradient><linearGradient id="gblk" x1="0" y1="0" x2="0" y2="1"><stop offset="0" stop-color="#e03030"/><stop offset="1" stop-color="#b00606"/></linearGradient></defs><g shape-rendering="crispEdges"><rect x="2" y="49" width="52" height="25" fill="#c40000"/><rect x="3" y="50" width="50" height="24" fill="url(#gtab)"/><rect x="2" y="73" width="109" height="40" fill="#c40000"/><rect x="3" y="74" width="107" height="38" fill="url(#gblk)"/><rect x="3" y="73" width="50" height="2" fill="url(#gtab)"/><rect x="6" y="72" width="45" height="1" fill="#8a0000"/><rect x="6" y="73" width="45" height="1" fill="#f07070"/><rect x="169" y="49" width="52" height="25" fill="#c40000"/><rect x="170" y="50" width="50" height="24" fill="url(#gtab)"/><rect x="113" y="73" width="108" height="40" fill="#c40000"/><rect x="114" y="74" width="106" height="38" fill="url(#gblk)"/><rect x="170" y="73" width="50" height="2" fill="url(#gtab)"/><rect x="173" y="72" width="44" height="1" fill="#8a0000"/><rect x="173" y="73" width="44" height="1" fill="#f07070"/><rect x="56" y="49" width="111" height="22" fill="#a8a8a8"/><rect x="57" y="50" width="109" height="20" fill="#fff"/><rect x="57" y="50" width="20" height="20" fill="#e6e6e6"/><rect x="77" y="50" width="1" height="20" fill="#b0b0b0"/><rect x="146" y="50" width="20" height="20" fill="#e6e6e6"/><rect x="145" y="50" width="1" height="20" fill="#b0b0b0"/></g><path d="M63,58 h7 l-3.5,3.5 z" fill="#000"/><path d="M152.5,61.5 h7 l-3.5,-3.5 z" fill="#000"/><text x="141.8" y="64" fill="#101830" style="font-size:12px;" text-anchor="end">1.00</text><text x="27.5" y="64.8" fill="#fff" style="font-size:12px;letter-spacing:-0.8px;" text-anchor="middle">SELL</text><text x="194.5" y="64.8" fill="#fff" style="font-size:12px;letter-spacing:-0.6px;" text-anchor="middle">BUY</text><text x="22.5" y="104" fill="#fff" style="font-size:12px;letter-spacing:-0.1px;font-weight:bold;">1.25</text><text x="50" y="104.4" fill="#fff" style="font-size:33px;letter-spacing:-1.8px;">22</text><text x="89" y="87.6" fill="#fff" style="font-size:11px;font-weight:bold;">3</text><text x="132.3" y="104" fill="#fff" style="font-size:12px;letter-spacing:-0.1px;font-weight:bold;">1.25</text><text x="161" y="104.4" fill="#fff" style="font-size:33px;letter-spacing:-1.8px;">25</text><text x="199.8" y="87.6" fill="#fff" style="font-size:11px;font-weight:bold;">6</text>
<g fill="none" stroke="#002000" stroke-width="2.8" stroke-linecap="square" stroke-linejoin="miter" ><polyline points="1403.10,195.20 1395.90,202.40"/><polyline points="1400.70,198.20 1410.90,198.20 1398.30,209.00"/><polyline points="1400.70,202.40 1405.50,205.40"/><polyline points="1407.90,207.20 1400.10,214.40"/><polyline points="1405.50,210.20 1416.30,210.20 1397.10,223.40"/><polyline points="1403.70,213.80 1408.50,216.80"/></g><g fill="none" stroke="#002000" stroke-width="2.8" stroke-linecap="square" stroke-linejoin="miter" ><polyline points="1437.90,194.60 1439.10,197.60"/><polyline points="1426.50,203.60 1426.50,199.40 1450.50,199.40 1450.50,203.60"/><polyline points="1434.90,202.40 1430.10,208.40"/><polyline points="1442.10,202.40 1447.50,207.80"/><polyline points="1430.10,211.40 1446.90,211.40"/><polyline points="1438.50,211.40 1438.50,221.60"/><polyline points="1425.30,221.60 1451.70,221.60"/></g><g fill="none" stroke="#002000" stroke-width="2.8" stroke-linecap="square" stroke-linejoin="miter" ><polyline points="1458.30,199.40 1469.10,199.40"/><polyline points="1464.30,195.20 1459.50,209.60 1469.70,209.60"/><polyline points="1464.30,203.00 1464.30,223.40"/><polyline points="1457.70,216.20 1469.70,215.00"/><polyline points="1472.10,201.20 1484.70,201.20"/><polyline points="1470.90,207.20 1485.90,207.20"/><polyline points="1479.30,195.20 1475.10,213.20"/><polyline points="1475.10,213.20 1484.10,213.20 1478.10,219.20"/><polyline points="1476.30,218.00 1481.70,222.80"/></g><g fill="none" stroke="#002000" stroke-width="2.8" stroke-linecap="square" stroke-linejoin="miter" ><polyline points="1490.70,203.60 1502.10,203.60"/><polyline points="1496.70,195.20 1496.70,221.60 1493.70,219.80"/><polyline points="1490.70,215.60 1502.10,210.80"/><polyline points="1517.10,196.40 1506.30,200.00"/><polyline points="1506.30,200.00 1506.00,213.20 1503.30,222.80"/><polyline points="1506.30,208.40 1518.90,208.40"/><polyline points="1512.90,208.40 1512.90,223.40"/></g><g fill="none" stroke="#002000" stroke-width="2.8" stroke-linecap="square" stroke-linejoin="miter" ><polyline points="1536.30,194.60 1536.30,206.60"/><polyline points="1536.30,200.60 1548.30,200.60"/><polyline points="1528.50,206.60 1546.50,206.60 1546.50,215.00 1528.50,215.00 1528.50,206.60"/><polyline points="1527.30,218.00 1524.30,222.80"/><polyline points="1533.30,218.60 1534.50,222.80"/><polyline points="1540.50,218.60 1542.30,222.80"/><polyline points="1547.10,218.00 1550.70,222.80"/></g><g fill="none" stroke="#00ff00" stroke-width="2.8" stroke-linecap="square" stroke-linejoin="miter" ><polyline points="1402.10,194.20 1394.90,201.40"/><polyline points="1399.70,197.20 1409.90,197.20 1397.30,208.00"/><polyline points="1399.70,201.40 1404.50,204.40"/><polyline points="1406.90,206.20 1399.10,213.40"/><polyline points="1404.50,209.20 1415.30,209.20 1396.10,222.40"/><polyline points="1402.70,212.80 1407.50,215.80"/></g><g fill="none" stroke="#00ff00" stroke-width="2.8" stroke-linecap="square" stroke-linejoin="miter" ><polyline points="1436.90,193.60 1438.10,196.60"/><polyline points="1425.50,202.60 1425.50,198.40 1449.50,198.40 1449.50,202.60"/><polyline points="1433.90,201.40 1429.10,207.40"/><polyline points="1441.10,201.40 1446.50,206.80"/><polyline points="1429.10,210.40 1445.90,210.40"/><polyline points="1437.50,210.40 1437.50,220.60"/><polyline points="1424.30,220.60 1450.70,220.60"/></g><g fill="none" stroke="#00ff00" stroke-width="2.8" stroke-linecap="square" stroke-linejoin="miter" ><polyline points="1457.30,198.40 1468.10,198.40"/><polyline points="1463.30,194.20 1458.50,208.60 1468.70,208.60"/><polyline points="1463.30,202.00 1463.30,222.40"/><polyline points="1456.70,215.20 1468.70,214.00"/><polyline points="1471.10,200.20 1483.70,200.20"/><polyline points="1469.90,206.20 1484.90,206.20"/><polyline points="1478.30,194.20 1474.10,212.20"/><polyline points="1474.10,212.20 1483.10,212.20 1477.10,218.20"/><polyline points="1475.30,217.00 1480.70,221.80"/></g><g fill="none" stroke="#00ff00" stroke-width="2.8" stroke-linecap="square" stroke-linejoin="miter" ><polyline points="1489.70,202.60 1501.10,202.60"/><polyline points="1495.70,194.20 1495.70,220.60 1492.70,218.80"/><polyline points="1489.70,214.60 1501.10,209.80"/><polyline points="1516.10,195.40 1505.30,199.00"/><polyline points="1505.30,199.00 1505.00,212.20 1502.30,221.80"/><polyline points="1505.30,207.40 1517.90,207.40"/><polyline points="1511.90,207.40 1511.90,222.40"/></g><g fill="none" stroke="#00ff00" stroke-width="2.8" stroke-linecap="square" stroke-linejoin="miter" ><polyline points="1535.30,193.60 1535.30,205.60"/><polyline points="1535.30,199.60 1547.30,199.60"/><polyline points="1527.50,205.60 1545.50,205.60 1545.50,214.00 1527.50,214.00 1527.50,205.60"/><polyline points="1526.30,217.00 1523.30,221.80"/><polyline points="1532.30,217.60 1533.50,221.80"/><polyline points="1539.50,217.60 1541.30,221.80"/><polyline points="1546.10,217.00 1549.70,221.80"/></g>
<rect x="1628" y="51" width="2" height="1" fill="#000"/><text x="1633" y="55" class="ax">1.25650</text><rect x="1628" y="84" width="2" height="1" fill="#000"/><text x="1633" y="88" class="ax">1.25260</text><rect x="1628" y="117" width="2" height="1" fill="#000"/><text x="1633" y="121" class="ax">1.24870</text><rect x="1628" y="150" width="2" height="1" fill="#000"/><text x="1633" y="154" class="ax">1.24490</text><rect x="1628" y="183" width="2" height="1" fill="#000"/><text x="1633" y="187" class="ax">1.24100</text><rect x="1628" y="216" width="2" height="1" fill="#000"/><text x="1633" y="220" class="ax">1.23710</text><rect x="1628" y="249" width="2" height="1" fill="#000"/><text x="1633" y="253" class="ax">1.23320</text><rect x="1628" y="282" width="2" height="1" fill="#000"/><text x="1633" y="286" class="ax">1.22940</text><rect x="1628" y="315" width="2" height="1" fill="#000"/><text x="1633" y="319" class="ax">1.22550</text><rect x="1628" y="348" width="2" height="1" fill="#000"/><text x="1633" y="352" class="ax">1.22160</text><rect x="1628" y="381" width="2" height="1" fill="#000"/><text x="1633" y="385" class="ax">1.21770</text><rect x="1628" y="414" width="2" height="1" fill="#000"/><text x="1633" y="418" class="ax">1.21390</text><rect x="1628" y="447" width="2" height="1" fill="#000"/><text x="1633" y="451" class="ax">1.21000</text><rect x="1628" y="480" width="2" height="1" fill="#000"/><text x="1633" y="484" class="ax">1.20610</text><rect x="1628" y="513" width="2" height="1" fill="#000"/><text x="1633" y="517" class="ax">1.20220</text><rect x="1628" y="546" width="2" height="1" fill="#000"/><text x="1633" y="550" class="ax">1.19840</text><rect x="1628" y="579" width="2" height="1" fill="#000"/><text x="1633" y="583" class="ax">1.19450</text>
<g shape-rendering="crispEdges"><rect x="1629" y="35" width="41" height="11" fill="#ff4500"/><text x="1633" y="44" class="ax" style="fill:#fff">1.25761</text><rect x="1629" y="56" width="41" height="11" fill="#ff4500"/><text x="1633" y="65" class="ax" style="fill:#fff">1.25515</text><rect x="1629" y="82" width="41" height="11" fill="#000"/><text x="1633" y="91" class="ax" style="fill:#fff">1.25223</text><rect x="1629" y="101" width="41" height="11" fill="#32cd32"/><text x="1633" y="110" class="ax" style="fill:#fff">1.24987</text><rect x="1629" y="126" width="41" height="11" fill="#0000ff"/><text x="1633" y="135" class="ax" style="fill:#fff">1.24694</text><rect x="1629" y="153" width="41" height="11" fill="#0000ff"/><text x="1633" y="162" class="ax" style="fill:#fff">1.24378</text></g>
<text x="-2.2" y="942" class="ax" style="letter-spacing:-0.3px">13 Aug 2019</text><rect x="63" y="930" width="1" height="4" fill="#000"/><text x="61.8" y="942" class="ax" style="letter-spacing:-0.3px">14 Aug 12:00</text><rect x="127" y="930" width="1" height="4" fill="#000"/><text x="125.8" y="942" class="ax" style="letter-spacing:-0.3px">15 Aug 20:00</text><rect x="191" y="930" width="1" height="4" fill="#000"/><text x="189.8" y="942" class="ax" style="letter-spacing:-0.3px">19 Aug 04:00</text><rect x="255" y="930" width="1" height="4" fill="#000"/><text x="253.8" y="942" class="ax" style="letter-spacing:-0.3px">20 Aug 12:00</text><rect x="319" y="930" width="1" height="4" fill="#000"/><text x="317.8" y="942" class="ax" style="letter-spacing:-0.3px">21 Aug 20:00</text><rect x="383" y="930" width="1" height="4" fill="#000"/><text x="381.8" y="942" class="ax" style="letter-spacing:-0.3px">23 Aug 04:00</text><rect x="447" y="930" width="1" height="4" fill="#000"/><text x="445.8" y="942" class="ax" style="letter-spacing:-0.3px">26 Aug 12:00</text><rect x="511" y="930" width="1" height="4" fill="#000"/><text x="509.8" y="942" class="ax" style="letter-spacing:-0.3px">27 Aug 20:00</text><rect x="575" y="930" width="1" height="4" fill="#000"/><text x="573.8" y="942" class="ax" style="letter-spacing:-0.3px">29 Aug 04:00</text><rect x="639" y="930" width="1" height="4" fill="#000"/><text x="637.8" y="942" class="ax" style="letter-spacing:-0.3px">30 Aug 12:00</text><rect x="703" y="930" width="1" height="4" fill="#000"/><text x="701.8" y="942" class="ax" style="letter-spacing:-0.3px">2 Sep 20:00</text><rect x="767" y="930" width="1" height="4" fill="#000"/><text x="765.8" y="942" class="ax" style="letter-spacing:-0.3px">4 Sep 04:00</text><rect x="831" y="930" width="1" height="4" fill="#000"/><text x="829.8" y="942" class="ax" style="letter-spacing:-0.3px">5 Sep 12:00</text><rect x="895" y="930" width="1" height="4" fill="#000"/><text x="893.8" y="942" class="ax" style="letter-spacing:-0.3px">8 Sep 23:00</text><rect x="959" y="930" width="1" height="4" fill="#000"/><text x="957.8" y="942" class="ax" style="letter-spacing:-0.3px">10 Sep 04:00</text><rect x="1023" y="930" width="1" height="4" fill="#000"/><text x="1021.8" y="942" class="ax" style="letter-spacing:-0.3px">11 Sep 12:00</text><rect x="1087" y="930" width="1" height="4" fill="#000"/><text x="1085.8" y="942" class="ax" style="letter-spacing:-0.3px">12 Sep 20:00</text><rect x="1151" y="930" width="1" height="4" fill="#000"/><text x="1149.8" y="942" class="ax" style="letter-spacing:-0.3px">16 Sep 04:00</text><rect x="1215" y="930" width="1" height="4" fill="#000"/><text x="1213.8" y="942" class="ax" style="letter-spacing:-0.3px">17 Sep 12:00</text><rect x="1279" y="930" width="1" height="4" fill="#000"/><text x="1277.8" y="942" class="ax" style="letter-spacing:-0.3px">18 Sep 20:00</text>
</svg>
</body></html>
